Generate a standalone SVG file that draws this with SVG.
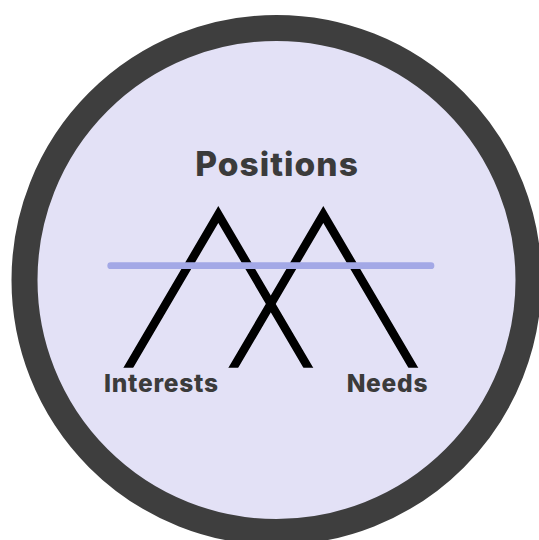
<svg xmlns="http://www.w3.org/2000/svg" width="539" height="540" viewBox="0 0 539 540">
  <style>
    .lbl { font-family: Inter, "Liberation Sans", sans-serif; font-weight: 800; fill: #3b3b3b; text-anchor: middle; letter-spacing: 0.03em; }
    .leg { fill: none; stroke: #000000; stroke-width: 8.5; stroke-linejoin: miter; stroke-miterlimit: 10; }
  </style>
  <defs>
    <clipPath id="cut"><rect x="0" y="0" width="539" height="367.7"/></clipPath>
  </defs>
  <rect x="0" y="0" width="539" height="540" fill="#ffffff"/>
  <g id="circle">
    <circle cx="276.5" cy="280" r="252" fill="#e3e1f6" stroke="#3e3e3e" stroke-width="26"/>
  </g>
  <g id="connectors" clip-path="url(#cut)">
    <polyline class="leg" points="125.8,372 218.3,214.5 310.8,372"/>
    <polyline class="leg" points="230.8,372 323.3,214.5 415.8,372"/>
  </g>
  <g id="bar">
    <line x1="110.7" y1="265.7" x2="431" y2="265.7" stroke="#a3a8e6" stroke-width="6.7" stroke-linecap="round"/>
  </g>
  <g id="positions">
    <text class="lbl" x="277.1" y="176" font-size="33.5">Positions</text>
  </g>
  <g id="interests">
    <text class="lbl" x="161.4" y="391.5" font-size="24.5">Interests</text>
  </g>
  <g id="needs">
    <text class="lbl" x="387.4" y="391.5" font-size="24.5">Needs</text>
  </g>
</svg>
